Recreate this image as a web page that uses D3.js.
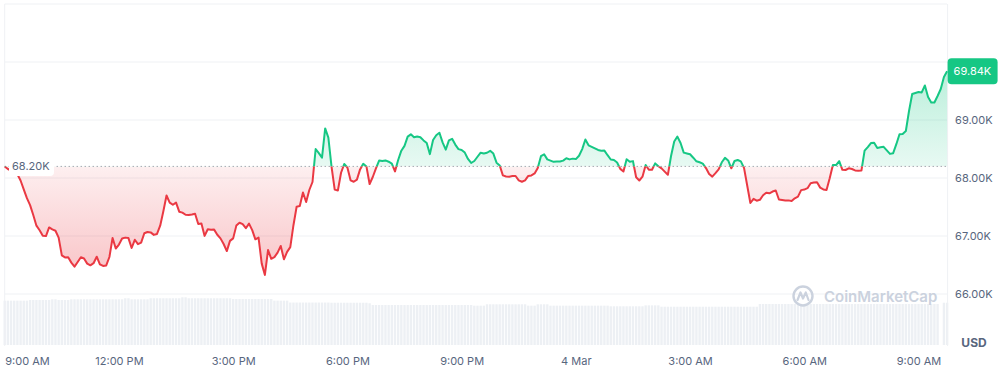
<!DOCTYPE html>
<html>
<head>
<meta charset="utf-8">
<script src="https://cdn.jsdelivr.net/npm/d3@7"></script>
<style>
body { margin: 0; background: #fff; }
text { font-family: Inter, "Noto Sans", sans-serif; }
</style>
</head>
<body>
<div id="chart"></div>
<script>
var width = 1003,
    height = 371;

// 5 minute steps starting 3 Mar, 9:00 AM
var startTime = new Date(2024, 2, 3, 9, 0);
var stepMinutes = 5;

var prices = [
  68200, 68155, 68129, 68109, 68064, 67957, 67803, 67652, 67533, 67362,
  67178, 67100, 67003, 66998, 67148, 67114, 67091, 66971, 66667, 66631,
  66633, 66541, 66471, 66552, 66633, 66612, 66524, 66495, 66531, 66643,
  66512, 66483, 66493, 66638, 66967, 66783, 66852, 66957, 66972, 66964,
  66793, 66935, 66859, 66885, 67047, 67069, 67062, 67019, 67035, 67178,
  67426, 67698, 67576, 67538, 67576, 67419, 67403, 67367, 67362, 67371,
  67384, 67207, 67216, 67002, 67116, 67109, 67110, 67021, 66959, 66862,
  66740, 66916, 66959, 67179, 67228, 67205, 67134, 67214, 67102, 66943,
  66974, 66524, 66328, 66759, 66607, 66635, 66714, 66829, 66598, 66726,
  66809, 67186, 67505, 67517, 67750, 67586, 67793, 67931, 68500, 68429,
  68352, 68855, 68695, 68195, 67800, 67785, 68090, 68241, 68181, 67960,
  67936, 67972, 68148, 68245, 68200, 67897, 68017, 68166, 68300, 68293,
  68303, 68281, 68248, 68114, 68310, 68471, 68553, 68714, 68753, 68702,
  68716, 68703, 68648, 68603, 68412, 68655, 68738, 68781, 68614, 68488,
  68648, 68676, 68576, 68498, 68483, 68438, 68328, 68259, 68293, 68366,
  68436, 68422, 68435, 68469, 68421, 68264, 68217, 68045, 68026, 68022,
  68033, 68035, 67960, 67936, 67960, 68036, 68045, 68078, 68174, 68376,
  68409, 68321, 68300, 68279, 68284, 68284, 68300, 68341, 68321, 68334,
  68326, 68384, 68498, 68664, 68564, 68538, 68512, 68483, 68471, 68472,
  68393, 68319, 68309, 68267, 68157, 68112, 68324, 68281, 68291, 68012,
  67957, 68022, 68224, 68141, 68143, 68252, 68202, 68166, 68110, 68055,
  68379, 68628, 68714, 68603, 68438, 68424, 68409, 68350, 68288, 68271,
  68248, 68171, 68069, 68024, 68083, 68148, 68271, 68347, 68303, 68167,
  68293, 68310, 68286, 68174, 67871, 67569, 67641, 67609, 67624, 67703,
  67747, 67736, 67767, 67785, 67629, 67621, 67614, 67614, 67603, 67650,
  67678, 67791, 67800, 67824, 67910, 67922, 67926, 67834, 67802, 67793,
  67995, 68222, 68222, 68290, 68141, 68138, 68167, 68155, 68131, 68126,
  68128, 68472, 68533, 68603, 68609, 68517, 68529, 68538, 68476, 68416,
  68428, 68583, 68755, 68759, 68810, 69155, 69448, 69466, 69483, 69476,
  69595, 69397, 69302, 69302, 69414, 69535, 69741, 69840
];

// 24h volume, billions USD
var volumes = [
  42.5, 42.5, 42.5, 42.5, 42.5, 42.5, 42.5, 42.5,
  43.1, 43.1, 43.1, 43.1, 43.1, 43.1, 43.1,
  43.8, 43.8,
  43.1, 43.1, 43.1, 43.1,
  43.8, 43.8, 43.8, 43.8, 43.8, 43.8, 43.8, 43.8, 43.8, 43.8, 43.8, 43.8, 43.8, 43.8, 43.8, 43.8, 43.8,
  44.8, 44.8,
  43.8, 43.8, 43.8, 43.8, 43.8, 43.8,
  44.8, 44.8, 44.8, 44.8, 44.8, 44.8, 44.8, 44.8, 44.8, 44.8,
  45.7, 45.7,
  44.8, 44.8, 44.8, 44.8, 44.8, 44.8, 44.8, 44.8, 44.8, 44.8, 44.8, 44.8, 44.8, 44.8,
  44.1, 44.1, 44.1, 44.1, 44.1, 44.1, 44.1, 44.1, 44.1, 44.1, 44.1, 44.1, 44.1,
  42.5, 42.5, 42.5, 42.5, 42.5,
  40.7, 40.7, 40.7, 40.7, 40.7, 40.7, 40.7, 40.7, 40.7, 40.7, 40.7, 40.7, 40.7,
  40.5, 40.5, 40.5, 40.5, 40.5, 40.5, 40.5, 40.5, 40.5, 40.5, 40.5, 40.5,
  40.0,
  38.3, 38.3, 38.3, 38.3, 38.3, 38.3, 38.3, 38.3, 38.3, 38.3, 38.3, 38.3, 38.3, 38.3, 38.3, 38.3,
  38.3, 38.3, 38.3, 38.3, 38.3, 38.3, 38.3, 38.3, 38.3, 38.3, 38.3, 38.3, 38.3, 38.3, 38.3, 38.3,
  37.7, 37.7, 37.7, 37.7,
  39.0, 39.0, 39.0, 39.0, 39.0, 39.0, 39.0, 39.0, 39.0, 39.0, 39.0, 39.0, 39.0,
  37.7, 37.7, 37.7,
  39.0, 39.0, 39.0, 39.0,
  37.7, 37.7, 37.7, 37.7, 37.7, 37.7, 37.7, 37.7, 37.7, 37.7, 37.7, 37.7, 37.7, 37.7, 37.7, 37.7, 37.7, 37.7, 37.7,
  37.1, 37.1, 37.1, 37.1, 37.1, 37.1, 37.1, 37.1, 37.1, 37.1, 37.1,
  38.0, 38.0, 38.0, 38.0, 38.0,
  36.7, 36.7, 36.7, 36.7, 36.7, 36.7, 36.7, 36.7, 36.7, 36.7, 36.7, 36.7, 36.7, 36.7, 36.7, 36.7,
  36.7, 36.7, 36.7, 36.7, 36.7, 36.7, 36.7, 36.7, 36.7, 36.7, 36.7, 36.7, 36.7, 36.7, 36.7,
  39.3, 39.3, 39.3, 39.3, 39.3, 39.3, 39.3, 39.3, 39.3, 39.3, 39.3, 39.3, 39.3, 39.3, 39.3, 39.3, 39.3, 39.3, 39.3,
  39.3, 39.3, 39.3, 39.3, 39.3, 39.3, 39.3, 39.3, 39.3, 39.3, 39.3, 39.3, 39.3, 39.3, 39.3, 39.3, 39.3, 39.3, 39.3,
  39.3, 39.3, 39.3, 39.3, 39.3, 39.3, 39.3, 39.3, 39.3, 39.3, 39.3, 39.3, 39.3, 39.3, 39.3, 39.3, 39.3, 39.3, 39.3,
  0,
  40.5, 40.5
];

var gridValues = [66000, 67000, 68000, 69000, 70000, 71000];
var labeledTicks = [66000, 67000, 68000, 69000];
var timeTickHours = [0, 3, 6, 9, 12, 15, 18, 21, 24];
var timeLabels = ["9:00 AM", "12:00 PM", "3:00 PM", "6:00 PM", "9:00 PM", "4 Mar", "3:00 AM", "6:00 AM", "9:00 AM"];
var currencyLabel = "USD";
var watermarkText = "CoinMarketCap";

var green = "#16c784",
    red = "#ea3943",
    axisGrey = "#58667e",
    gridColor = "#eff1f4";

var data = prices.map(function(p, i){
    return { t: new Date(startTime.getTime() + i * stepMinutes * 60000), p: p, v: volumes[i] }
})
var baseline = prices[0];
var last = prices[prices.length - 1];
var fmtK = function(v){ return d3.format(".2f")(v / 1000) + "K" }

var plotLeft = 4.7, plotRight = 947.1, plotTop = 4, plotBottom = 346;

var x = d3.scaleTime()
    .domain([data[0].t, data[data.length - 1].t])
    .range([plotLeft, plotRight]);
var y = d3.scaleLinear().domain([66000, 71000]).range([294, plotTop]);
var yVol = d3.scaleLinear().domain([0, 46]).range([345, 297]);

var svg = d3.select("#chart")
    .append("svg")
    .attr("width", width)
    .attr("height", height);

var defs = svg.append("defs");
var gGreen = defs.append("linearGradient")
    .attr("id", "gradGreen")
    .attr("gradientUnits", "userSpaceOnUse")
    .attr("x1", 0).attr("x2", 0)
    .attr("y1", y(69900)).attr("y2", y(baseline));
gGreen.append("stop").attr("offset", 0).attr("stop-color", green).attr("stop-opacity", 0.3);
gGreen.append("stop").attr("offset", 1).attr("stop-color", green).attr("stop-opacity", 0.1);

var gRed = defs.append("linearGradient")
    .attr("id", "gradRed")
    .attr("gradientUnits", "userSpaceOnUse")
    .attr("x1", 0).attr("x2", 0)
    .attr("y1", y(baseline)).attr("y2", y(66300));
gRed.append("stop").attr("offset", 0).attr("stop-color", red).attr("stop-opacity", 0.08);
gRed.append("stop").attr("offset", 1).attr("stop-color", red).attr("stop-opacity", 0.3);

defs.append("clipPath").attr("id", "clipAbove")
    .append("rect")
    .attr("x", 0).attr("y", 0)
    .attr("width", width).attr("height", y(baseline));
defs.append("clipPath").attr("id", "clipBelow")
    .append("rect")
    .attr("x", 0).attr("y", y(baseline))
    .attr("width", width).attr("height", plotBottom - y(baseline));

// volume bars
var step = x(data[1].t) - x(data[0].t);
svg.append("g")
    .selectAll("rect")
    .data(data)
    .enter().append("rect")
    .attr("x", function(d){ return x(d.t) - step / 2 + 0.4 })
    .attr("y", function(d){ return yVol(d.v) })
    .attr("width", step - 0.8)
    .attr("height", function(d){ return yVol(0) - yVol(d.v) })
    .attr("fill", "#edf0f4");

// grid
svg.append("g")
    .selectAll("line")
    .data(gridValues)
    .enter().append("line")
    .attr("x1", plotLeft).attr("x2", plotRight)
    .attr("y1", function(d){ return y(d) })
    .attr("y2", function(d){ return y(d) })
    .attr("stroke", gridColor)
    .attr("stroke-width", 1);
svg.append("line")
    .attr("x1", plotLeft).attr("x2", plotLeft)
    .attr("y1", plotTop).attr("y2", plotBottom)
    .attr("stroke", gridColor);
svg.append("line")
    .attr("x1", plotRight + 0.5).attr("x2", plotRight + 0.5)
    .attr("y1", plotTop).attr("y2", plotBottom)
    .attr("stroke", gridColor);

// watermark
var wm = svg.append("g").attr("fill", "none").attr("stroke", "#cbd2de");
wm.append("circle").attr("cx", 803).attr("cy", 296).attr("r", 9.5).attr("stroke-width", 2.4);
wm.append("path")
    .attr("d", "M797.5,300 L800.5,292.5 L803,298.5 L805.8,292.5 L808.5,300")
    .attr("stroke-width", 2.2)
    .attr("stroke-linejoin", "round")
    .attr("stroke-linecap", "round");
svg.append("text")
    .attr("x", 824).attr("y", 302)
    .attr("fill", "#cbd2de")
    .style("font-size", "15px")
    .style("font-weight", 600)
    .text(watermarkText);

// price areas
var area = d3.area()
    .x(function(d){ return x(d.t) })
    .y0(y(baseline))
    .y1(function(d){ return y(d.p) });
var line = d3.line()
    .x(function(d){ return x(d.t) })
    .y(function(d){ return y(d.p) });

svg.append("path").datum(data)
    .attr("d", area)
    .attr("fill", "url(#gradGreen)")
    .attr("clip-path", "url(#clipAbove)");
svg.append("path").datum(data)
    .attr("d", area)
    .attr("fill", "url(#gradRed)")
    .attr("clip-path", "url(#clipBelow)");

// baseline dots
svg.append("line")
    .attr("x1", plotLeft).attr("x2", plotRight)
    .attr("y1", y(baseline)).attr("y2", y(baseline))
    .attr("stroke", "#7d8491")
    .attr("stroke-width", 1)
    .attr("stroke-dasharray", "1,3");

svg.append("path").datum(data)
    .attr("d", line)
    .attr("fill", "none")
    .attr("stroke", green)
    .attr("stroke-width", 2)
    .attr("stroke-linejoin", "round")
    .attr("clip-path", "url(#clipAbove)");
svg.append("path").datum(data)
    .attr("d", line)
    .attr("fill", "none")
    .attr("stroke", red)
    .attr("stroke-width", 2)
    .attr("stroke-linejoin", "round")
    .attr("clip-path", "url(#clipBelow)");

// baseline label
svg.append("rect")
    .attr("x", 9).attr("y", y(baseline) - 8.5)
    .attr("width", 45).attr("height", 18)
    .attr("rx", 4)
    .attr("fill", "#fff");
svg.append("text")
    .attr("x", 12).attr("y", y(baseline))
    .attr("dy", "0.35em")
    .attr("fill", axisGrey)
    .style("font-size", "11px")
    .text(fmtK(baseline));

// current price badge
svg.append("rect")
    .attr("x", plotRight + 0.5).attr("y", y(last) - 13)
    .attr("width", 50).attr("height", 26)
    .attr("rx", 4)
    .attr("fill", green);
svg.append("text")
    .attr("x", plotRight + 6.5).attr("y", y(last))
    .attr("dy", "0.35em")
    .attr("fill", "#fff")
    .style("font-size", "11px")
    .text(fmtK(last));

// y axis
var yAxis = svg.append("g")
    .attr("transform", "translate(" + (plotRight + 1) + ",0)")
    .call(d3.axisRight(y).tickValues(labeledTicks).tickFormat(fmtK).tickSize(0).tickPadding(7));
yAxis.select(".domain").remove();
yAxis.selectAll("text")
    .attr("fill", axisGrey)
    .style("font-size", "11px")
    .style("font-family", "Inter, sans-serif");

// x axis
var timeTicks = timeTickHours.map(function(h){ return new Date(startTime.getTime() + h * 3600000) });
var xAxis = svg.append("g")
    .attr("transform", "translate(0," + plotBottom + ")")
    .call(d3.axisBottom(x).tickValues(timeTicks).tickFormat(function(d, i){ return timeLabels[i] }).tickSize(0).tickPadding(11));
xAxis.select(".domain").remove();
xAxis.selectAll("text")
    .attr("fill", axisGrey)
    .style("font-size", "11px")
    .style("font-family", "Inter, sans-serif");
xAxis.select(".tick text").attr("text-anchor", "start");

svg.append("text")
    .attr("x", 974).attr("y", 347)
    .attr("text-anchor", "middle")
    .attr("fill", axisGrey)
    .style("font-size", "12px")
    .style("font-weight", 700)
    .text(currencyLabel);
</script>
</body>
</html>
